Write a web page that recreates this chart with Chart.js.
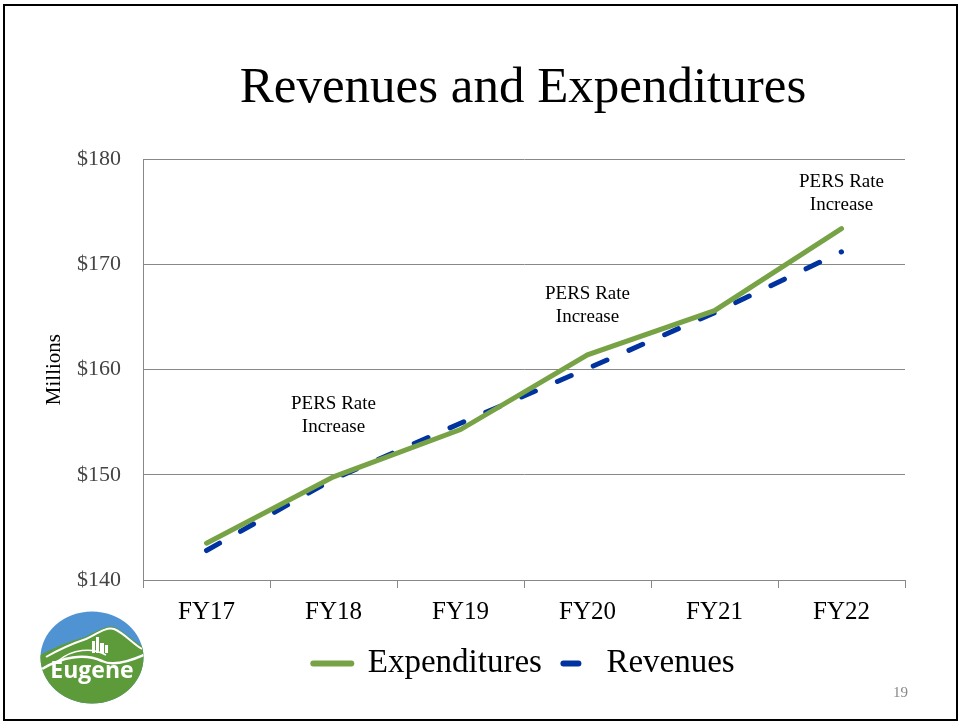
<!DOCTYPE html>
<html lang="en">
<head>
<meta charset="UTF-8">
<title>Revenues and Expenditures</title>
<script src="https://cdn.jsdelivr.net/npm/chart.js@4"></script>
<style>
    body { margin: 0; background: #fff; }
    #slide { position: relative; width: 960px; height: 723px; overflow: hidden; }
    #frame { position: absolute; left: 3px; top: 4px; width: 951px; height: 713px; border: 2px solid #000; }
    #title { position: absolute; left: 80px; width: 886px; top: 56px; text-align: center;
             font-family: "Liberation Serif", serif; font-size: 51px; color: #000; }
    #wrap { position: absolute; left: 30px; top: 124px; width: 900px; height: 566px; }
    #logo { position: absolute; left: 40px; top: 611px; }
    #page { position: absolute; left: 893px; top: 684px; font-family: "Liberation Serif", serif;
            font-size: 15px; color: #888; }
</style>
</head>
<body>
<div id="slide">
    <div id="frame"></div>
    <div id="title">Revenues and Expenditures</div>
    <div id="wrap"><canvas id="chart"></canvas></div>
    <svg id="logo" width="104" height="93" viewBox="0 0 104 93">
        <defs><clipPath id="oval"><ellipse cx="52" cy="46.5" rx="51.5" ry="46"/></clipPath></defs>
        <g clip-path="url(#oval)">
            <rect x="0" y="0" width="104" height="93" fill="#4f93d2"/>
            <path d="M0 44 C15 36 30 30 45 26 C58 20 66 14 74 16 C84 20 92 30 104 36 L104 93 L0 93 Z" fill="#5c9a3a"/>
            <path d="M6 46 C20 38 34 32 46 28 C58 22 66 16 74 18 C84 22 92 32 102 38" stroke="#fff" stroke-width="2" fill="none"/>
            <path d="M2 58 C22 46 44 42 62 50 C72 55 86 52 104 44" stroke="#fff" stroke-width="2.5" fill="none"/>
            <path d="M18 50 C32 38 52 36 66 44" stroke="#fff" stroke-width="1.5" fill="none"/>
            <rect x="52" y="30" width="3" height="12" fill="#fff"/>
            <rect x="56" y="26" width="3" height="16" fill="#fff"/>
            <rect x="60" y="32" width="4" height="10" fill="#fff"/>
            <rect x="65" y="34" width="3" height="8" fill="#fff"/>
        </g>
        <text x="52" y="67" text-anchor="middle" font-family="Open Sans, sans-serif" font-weight="bold"
              font-size="23" fill="#fff">Eugene</text>
    </svg>
    <div id="page">19</div>
</div>
<script>
// values in $ millions
const years = ['FY17', 'FY18', 'FY19', 'FY20', 'FY21', 'FY22'];
const expenditures = [143.5, 149.8, 154.3, 161.4, 165.6, 173.4];
const revenues = [142.8, 149.6, 154.9, 160.1, 165.4, 171.2];
const yTicks = [140, 150, 160, 170, 180];

// "PERS Rate Increase" notes
const noteYears = ['FY18', 'FY20', 'FY22'];
const noteValues = [155.6, 166.1, 176.7];

const green = '#77a346';
const blue = '#0033a0';
const serif = '"Liberation Serif", serif';

// draws the notes at their category / value spot
const notesPlugin = {
    id: 'notes',
    afterDatasetsDraw(chart) {
        const ctx = chart.ctx;
        const xs = chart.scales.x, ys = chart.scales.y;
        ctx.save();
        ctx.font = '19px ' + serif;
        ctx.fillStyle = '#000';
        ctx.textAlign = 'center';
        ctx.textBaseline = 'middle';
        noteYears.forEach((yr, i) => {
            const x = xs.getPixelForValue(years.indexOf(yr));
            const y = ys.getPixelForValue(noteValues[i]);
            ctx.fillText('PERS Rate', x, y - 11.5);
            ctx.fillText('Increase', x, y + 11.5);
        });
        ctx.restore();
    }
};

const ctx = document.getElementById('chart').getContext('2d');
const chart = new Chart(ctx, {
    type: 'line',
    data: {
        labels: years,
        datasets: [{
            label: 'Expenditures',
            data: expenditures,
            borderColor: green,
            backgroundColor: green,
            borderWidth: 5,
            pointRadius: 0,
            tension: 0,
            borderCapStyle: 'round'
        }, {
            label: 'Revenues',
            data: revenues,
            borderColor: blue,
            backgroundColor: blue,
            borderWidth: 5,
            borderDash: [15, 24],
            borderCapStyle: 'round',
            pointRadius: 0,
            tension: 0
        }]
    },
    options: {
        responsive: true,
        maintainAspectRatio: false,
        animation: false,
        layout: { padding: { left: 8, right: 25, top: 5, bottom: 0 } },
        plugins: {
            tooltip: { enabled: false },
            legend: {
                position: 'bottom',
                fullSize: false, // span the plot only, so it centres under it
                labels: {
                    usePointStyle: true,
                    pointStyle: 'line',
                    pointStyleWidth: 38,
                    padding: 10,
                    color: '#000',
                    font: { family: serif, size: 33 },
                    generateLabels(chart) {
                        const items = Chart.defaults.plugins.legend.labels.generateLabels(chart);
                        items.forEach(it => {
                            it.lineWidth = 6;
                            it.lineCap = 'round';
                            if (it.datasetIndex === 1) {
                                it.lineDash = [15, 23];
                                it.lineDashOffset = 26.5;
                            }
                        });
                        return items;
                    }
                }
            }
        },
        scales: {
            x: {
                offset: true,
                afterFit(scale) { scale.height = 57; },
                grid: { display: true, offset: true, drawOnChartArea: false, color: '#888', tickLength: 8 },
                border: { color: '#888' },
                ticks: { color: '#000', padding: 9, font: { family: serif, size: 25 } }
            },
            y: {
                min: 140,
                max: 180,
                afterFit(scale) { scale.width = 105; },
                afterBuildTicks(scale) { scale.ticks = yTicks.map(v => ({ value: v })); },
                grid: { color: '#888', drawTicks: false },
                border: { color: '#888' },
                title: { display: true, text: 'Millions', color: '#000', font: { family: serif, size: 21 } },
                ticks: {
                    color: '#444',
                    padding: 22,
                    font: { family: serif, size: 22 },
                    callback: v => '$' + v
                }
            }
        }
    },
    plugins: [notesPlugin]
});
</script>
</body>
</html>
